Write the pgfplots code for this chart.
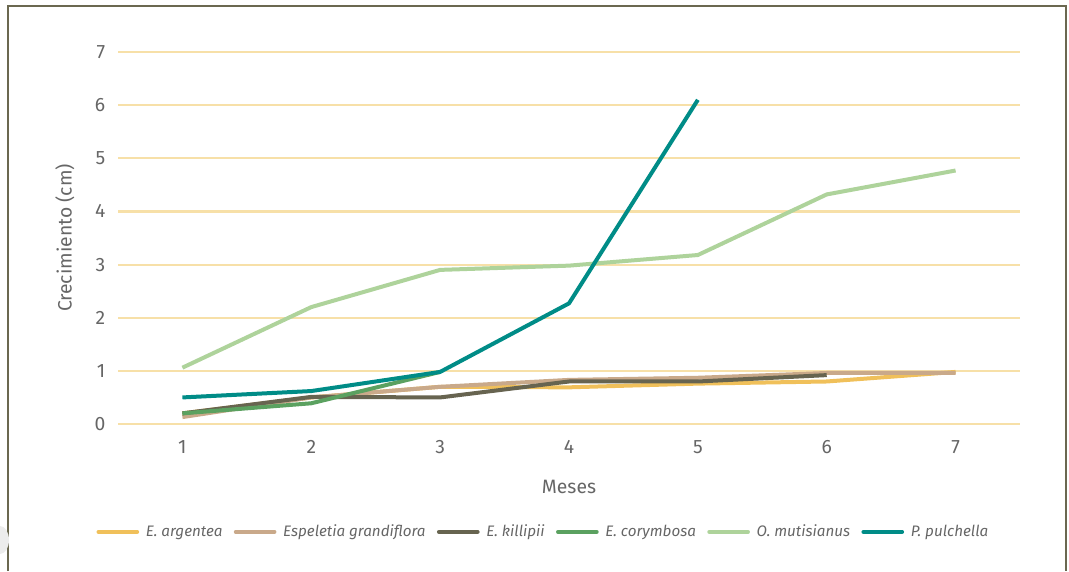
\documentclass[border=0pt]{standalone}
\usepackage{fontspec}
\setmainfont{Fira Sans}
\usepackage{pgfplots}
\pgfplotsset{compat=1.18}

\definecolor{argentea}{HTML}{F0C05A}
\definecolor{grandiflora}{HTML}{C9A98A}
\definecolor{killipii}{HTML}{676450}
\definecolor{corymbosa}{HTML}{5BA160}
\definecolor{mutisianus}{HTML}{AED39B}
\definecolor{pulchella}{HTML}{008C87}
\definecolor{gridy}{HTML}{F7E0A8}
\definecolor{txt}{HTML}{666666}
\definecolor{frame}{HTML}{6B6850}

\begin{document}
\begin{tikzpicture}[x=0.75pt,y=0.75pt]
% page area: 1069 x 571 units, axis lower-left at (118,424) from top-left
\path[use as bounding box] (-118,-147) rectangle (951,424);
% outer frame
\draw[frame, line width=1.1pt] (-110,-147) -- (-110,418) -- (948,418) -- (948,-147);
\fill[gray!15] (-118,-116) ellipse (9 and 14);
\begin{axis}[
  at={(0,0)}, anchor=south west,
  scale only axis,
  width=676.5pt, height=279pt,
  xmin=0.5, xmax=7.5, ymin=0, ymax=7,
  axis line style={draw=none},
  clip=false,
  xtick={1,...,7}, ytick={0,...,7},
  ymajorgrids, grid style={gridy, line width=1.6pt},
  major tick length=0pt,
  tick label style={font=\fontsize{14.5}{16}\selectfont, text=txt},
  /pgf/number format/assume math mode=true,
  yticklabel style={xshift=-6pt},
  xticklabel style={yshift=-9pt},
  xlabel={Meses},
  ylabel={Crecimiento (cm)},
  label style={font=\fontsize{14.5}{16}\selectfont, text=txt},
  xlabel style={at={(axis description cs:0.5,-0.169)}, anchor=center},
  ylabel style={at={(axis description cs:-0.0588,0.5)}, anchor=center},
  every axis plot/.append style={line width=3pt, line join=round, no markers},
  legend columns=6,
  legend style={at={(0.472,-0.29)}, anchor=center, draw=none, fill=none,
    font=\fontsize{11.4}{13}\selectfont\itshape, text=txt,
    /tikz/every odd column/.append style={column sep=3pt},
    /tikz/every even column/.append style={column sep=6.5pt}},
  legend image code/.code={\draw[#1, line width=3pt, line cap=round] (0pt,0pt) -- (29pt,0pt);},
]
\addplot[argentea] coordinates {(1,0.20) (2,0.50) (3,0.70) (4,0.69) (5,0.76) (6,0.80) (7,0.98)};
\addlegendentry{E. argentea}
\addplot[grandiflora] coordinates {(1,0.13) (2,0.50) (3,0.70) (4,0.83) (5,0.87) (6,0.96) (7,0.96)};
\addlegendentry{Espeletia grandiflora}
\addplot[killipii] coordinates {(1,0.20) (2,0.51) (3,0.50) (4,0.80) (5,0.80) (6,0.92)};
\addlegendentry{E. killipii}
\addplot[corymbosa] coordinates {(1,0.20) (2,0.39) (3,0.98)};
\addlegendentry{E. corymbosa}
\addplot[mutisianus] coordinates {(1,1.06) (2,2.20) (3,2.90) (4,2.98) (5,3.18) (6,4.32) (7,4.77)};
\addlegendentry{O. mutisianus}
\addplot[pulchella] coordinates {(1,0.50) (2,0.62) (3,0.98) (4,2.27) (5,6.10)};
\addlegendentry{P. pulchella}
\end{axis}
\end{tikzpicture}
\end{document}
